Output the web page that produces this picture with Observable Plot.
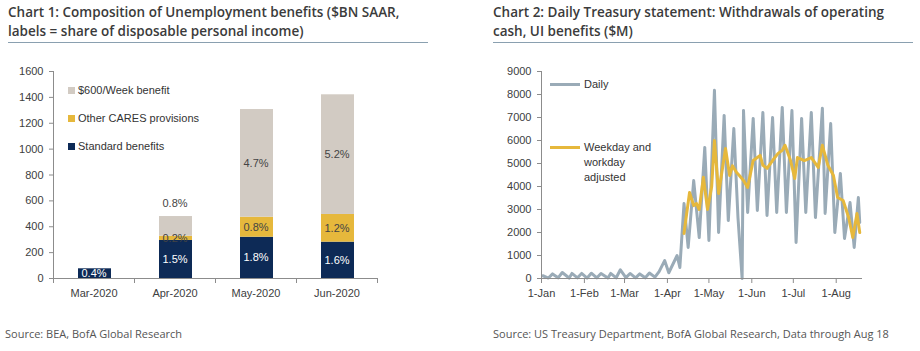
<!DOCTYPE html>
<html><head><meta charset="utf-8">
<script src="https://cdn.jsdelivr.net/npm/d3@7"></script>
<script src="https://cdn.jsdelivr.net/npm/@observablehq/plot@0.6"></script>
<style>
body{margin:0;background:#fff;}
#wrap{position:relative;width:920px;height:351px;overflow:hidden;font-family:"Liberation Sans",Arial,sans-serif;background:#fff;}
.title{position:absolute;top:3px;font-family:"Open Sans",sans-serif;font-weight:600;font-size:13.5px;line-height:19px;color:#3b3b3b;white-space:nowrap;}
.rule{position:absolute;top:42px;height:1px;background:#8aa0b0;}
.src{position:absolute;top:326px;font-family:"Open Sans",sans-serif;font-size:11px;color:#555;white-space:nowrap;}
.chart{position:absolute;top:60px;}
.leg{position:absolute;font-size:11px;color:#333;line-height:15px;white-space:nowrap;}
.sq{position:absolute;width:7px;height:7px;}
.ln{position:absolute;width:30px;height:3px;}
</style>
</head><body>
<div id="wrap">
  <div class="title" style="left:8px">Chart 1: Composition of Unemployment benefits ($BN SAAR,<br>labels = share of disposable personal income)</div>
  <div class="rule" style="left:8px;width:420px"></div>
  <div class="title" style="left:493px">Chart 2: Daily Treasury statement: Withdrawals of operating<br>cash, UI benefits ($M)</div>
  <div class="rule" style="left:493px;width:420px"></div>
  <div id="c1" class="chart" style="left:0px"></div>
  <div id="c2" class="chart" style="left:460px"></div>
  <div id="leg1"></div>
  <div id="leg2"></div>
  <div class="src" style="left:5px">Source: BEA, BofA Global Research</div>
  <div class="src" style="left:493px">Source: US Treasury Department, BofA Global Research, Data through Aug 18</div>
</div>
<script>
// ---------- Chart 1 data ----------
const months = ["Mar-2020", "Apr-2020", "May-2020", "Jun-2020"];
const seriesNames = ["Standard benefits", "Other CARES provisions", "$600/Week benefit"];
const standard = [75, 294, 319, 281];
const otherCares = [0, 33, 155, 214];
const week600 = [0, 152, 832, 925];
const labStandard = ["0.4%", "1.5%", "1.8%", "1.6%"];
const labOther = [null, "0.2%", "0.8%", "1.2%"];
const lab600 = [null, "0.8%", "4.7%", "5.2%"];
const yTicks1 = [0, 200, 400, 600, 800, 1000, 1200, 1400, 1600];

// ---------- Chart 2 data ----------
const dailyDates = ["2020-01-02","2020-01-06","2020-01-09","2020-01-13","2020-01-16","2020-01-21","2020-01-23","2020-01-27","2020-01-30","2020-02-03","2020-02-06","2020-02-10","2020-02-13","2020-02-18","2020-02-20","2020-02-24","2020-02-27","2020-03-02","2020-03-05","2020-03-09","2020-03-12","2020-03-16","2020-03-19","2020-03-23","2020-03-26","2020-03-30","2020-04-02","2020-04-08","2020-04-10","2020-04-13","2020-04-16","2020-04-20","2020-04-24","2020-04-28","2020-05-01","2020-05-05","2020-05-08","2020-05-12","2020-05-15","2020-05-19","2020-05-22","2020-05-25","2020-05-26","2020-05-29","2020-06-02","2020-06-05","2020-06-09","2020-06-12","2020-06-16","2020-06-19","2020-06-23","2020-06-26","2020-06-30","2020-07-03","2020-07-07","2020-07-10","2020-07-14","2020-07-17","2020-07-22","2020-07-24","2020-07-28","2020-07-31","2020-08-04","2020-08-07","2020-08-11","2020-08-14","2020-08-17","2020-08-18"];
const dailyValues = [120,20,200,30,260,20,220,30,220,20,230,30,220,20,220,30,380,40,220,30,200,30,240,60,300,780,250,1000,480,3260,1350,4260,1780,5700,1650,8180,2000,7090,2520,6520,2650,0,7300,2870,6960,2960,7220,2740,7000,2870,7440,2870,7300,1570,6960,2870,7220,2650,7400,2830,6740,2000,4570,1740,3300,1350,3520,2440];
const adjDates = ["2020-04-13","2020-04-17","2020-04-20","2020-04-22","2020-04-24","2020-04-27","2020-04-30","2020-05-03","2020-05-05","2020-05-08","2020-05-13","2020-05-16","2020-05-18","2020-05-21","2020-05-23","2020-05-26","2020-05-29","2020-06-02","2020-06-07","2020-06-09","2020-06-12","2020-06-16","2020-06-20","2020-06-23","2020-06-25","2020-06-29","2020-07-02","2020-07-04","2020-07-09","2020-07-14","2020-07-19","2020-07-22","2020-07-26","2020-07-30","2020-08-02","2020-08-06","2020-08-10","2020-08-13","2020-08-16","2020-08-18"];
const adjValues = [1960,3740,3170,3260,3000,4400,3000,4000,6000,3700,5650,4480,4900,4610,4480,4260,3960,5130,5350,4920,4790,5130,5440,5570,5790,5130,4350,5260,5130,5260,4830,5790,4920,4480,3520,3390,2650,1780,2830,2000];
const yTicks2 = [0,1000,2000,3000,4000,5000,6000,7000,8000,9000];

const colors = {"Standard benefits": "#0d2a56", "Other CARES provisions": "#e6b83c", "$600/Week benefit": "#d2cbc3"};
const axisColor = "#8c8c8c";
const textColor = "#404040";

// ---------- build chart 1 ----------
const rows = [];
months.forEach((m, i) => {
  let base = 0;
  [[seriesNames[0], standard, labStandard], [seriesNames[1], otherCares, labOther], [seriesNames[2], week600, lab600]].forEach(([s, vals, labs]) => {
    const v = vals[i];
    rows.push({i, month: m, series: s, y1: base, y2: base + v, label: labs[i]});
    base += v;
  });
});
const segs = rows.filter(d => d.y2 > d.y1);
const labStd = rows.filter(d => d.series === seriesNames[0] && d.label);
const labMid = rows.filter(d => d.series !== seriesNames[0] && d.label && (d.series === seriesNames[1] || d.y2 - d.y1 >= 300));
const labTop = rows.filter(d => d.series === seriesNames[2] && d.label && d.y2 - d.y1 < 300);

const chart1 = Plot.plot({
  width: 460, height: 250,
  marginLeft: 53, marginRight: 83, marginTop: 11, marginBottom: 32,
  style: {fontFamily: "Liberation Sans, Arial, sans-serif", fontSize: "11px", color: textColor, background: "transparent"},
  x: {type: "linear", domain: [0, 4], axis: null},
  y: {domain: [0, 1600], axis: null},
  color: {domain: seriesNames, range: seriesNames.map(s => colors[s])},
  marks: [
    Plot.rect(segs, {x1: d => d.i, x2: d => d.i + 1, y1: "y1", y2: "y2", fill: "series", insetLeft: 25, insetRight: 23}),
    Plot.text(labStd, {x: d => d.i + 0.5, y: d => (d.y1 + d.y2) / 2, text: "label", fill: "white", fontSize: 11}),
    Plot.text(labMid, {x: d => d.i + 0.5, y: d => (d.y1 + d.y2) / 2, text: "label", fill: "#444", fontSize: 11}),
    Plot.text(labTop, {x: d => d.i + 0.5, y: "y2", text: "label", fill: "#444", fontSize: 11, dy: -13}),
    Plot.ruleX([0], {stroke: axisColor}),
    Plot.ruleY([0], {stroke: axisColor}),
    Plot.axisY({ticks: yTicks1, tickFormat: d => String(d), label: null, tickSize: 4, tickPadding: 6, stroke: axisColor, fill: textColor}),
    Plot.axisX({ticks: [0, 1, 2, 3, 4], tickFormat: () => "", label: null, tickSize: 5, stroke: axisColor}),
    Plot.axisX({ticks: [0.5, 1.5, 2.5, 3.5], tickFormat: d => months[Math.floor(d)], label: null, tickSize: 0, tickPadding: 11, fill: textColor})
  ]
});
document.getElementById("c1").appendChild(chart1);

// ---------- build chart 2 ----------
const daily = dailyDates.map((d, k) => ({date: new Date(d), value: dailyValues[k]}));
const adj = adjDates.map((d, k) => ({date: new Date(d), value: adjValues[k]}));
const x0 = new Date("2020-01-01"), x1 = new Date("2020-08-20");
const monthTicks = d3.utcMonth.range(x0, x1);

const chart2 = Plot.plot({
  width: 460, height: 250,
  marginLeft: 81, marginRight: 58, marginTop: 11, marginBottom: 32,
  style: {fontFamily: "Liberation Sans, Arial, sans-serif", fontSize: "11px", color: textColor, background: "transparent"},
  x: {type: "utc", domain: [x0, x1], axis: null},
  y: {domain: [0, 9000], axis: null},
  marks: [
    Plot.lineY(daily, {x: "date", y: "value", stroke: "#9aabb7", strokeWidth: 3, strokeLinejoin: "round"}),
    Plot.lineY(adj, {x: "date", y: "value", stroke: "#e6b83c", strokeWidth: 3, strokeLinejoin: "round"}),
    Plot.ruleX([x0], {stroke: axisColor}),
    Plot.ruleY([0], {stroke: axisColor}),
    Plot.axisY({ticks: yTicks2, tickFormat: d => String(d), label: null, tickSize: 4, tickPadding: 6, stroke: axisColor, fill: textColor}),
    Plot.axisX({ticks: monthTicks, tickFormat: d3.utcFormat("%-d-%b"), label: null, tickSize: 5, tickPadding: 6, stroke: axisColor, fill: textColor})
  ]
});
document.getElementById("c2").appendChild(chart2);

// ---------- legends (HTML) ----------
const leg1 = document.getElementById("leg1");
const legOrder = [seriesNames[2], seriesNames[1], seriesNames[0]];
legOrder.forEach((s, k) => {
  const cy = 90 + 28 * k;
  leg1.insertAdjacentHTML("beforeend",
    `<div class="sq" style="left:68px;top:${cy - 3.5}px;background:${colors[s]}"></div>` +
    `<div class="leg" style="left:78px;top:${cy - 7.5}px">${s}</div>`);
});
const leg2 = document.getElementById("leg2");
leg2.insertAdjacentHTML("beforeend",
  `<div class="ln" style="left:550px;top:83px;background:#9aabb7"></div>` +
  `<div class="leg" style="left:584px;top:77px">Daily</div>` +
  `<div class="ln" style="left:550px;top:146px;background:#e6b83c"></div>` +
  `<div class="leg" style="left:584px;top:140px">Weekday and<br>workday<br>adjusted</div>`);
</script>
</body></html>
